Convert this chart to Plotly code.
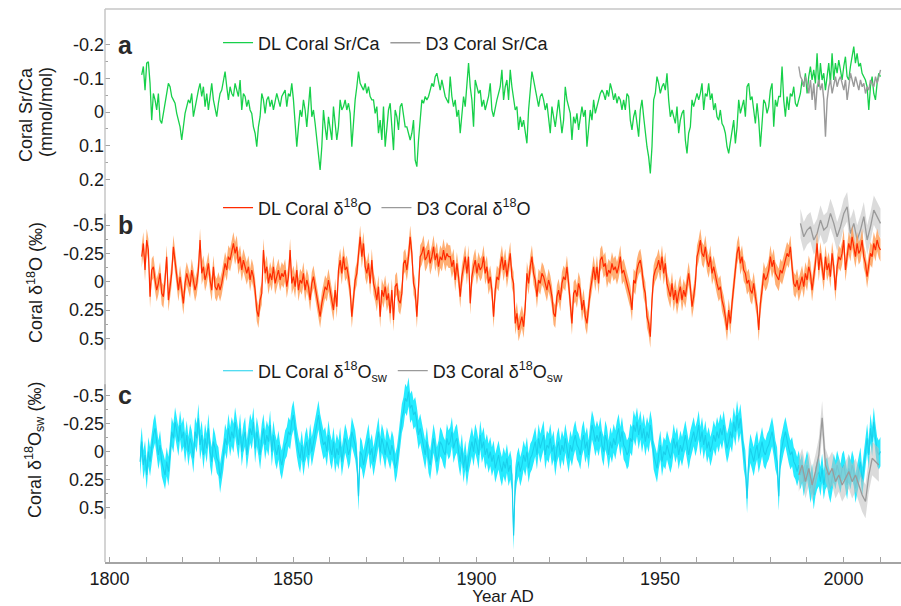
import numpy as np
import plotly.graph_objects as go

FONT = "Liberation Sans, Arial, Helvetica, sans-serif"
TEXT = "#1a1a1a"

# ---------------------------------------------------------------------------
# Coral records (decimal years, regular sampling)
# ---------------------------------------------------------------------------
DL_START = 1808.77        # first DL Sr/Ca and d18O sample
DL_SW_START = 1808.32     # first DL d18Osw sample
DL_STEP = 0.4544          # DL sampling interval (yr)
D3_START = 1987.82        # first D3 Sr/Ca and d18Osw sample
D3_O18_START = 1988.27    # first D3 d18O sample
D3_SRCA_STEP = 0.4544
D3_STEP = 0.9089

# Sr/Ca anomalies (mmol/mol)
dl_srca = [
    -0.110, -0.135, -0.065, -0.145, -0.149, -0.085, 0.024, -0.055, -0.036, -0.006,
    -0.055, 0.024, 0.034, 0.004, -0.036, -0.055, -0.085, -0.075, -0.046, -0.036,
    -0.026, 0.004, 0.024, 0.044, 0.083, 0.044, 0.004, -0.016, -0.036, -0.026,
    -0.055, 0.014, -0.016, -0.036, -0.065, -0.085, -0.046, -0.075, -0.016, -0.055,
    -0.006, -0.046, -0.085, -0.036, -0.006, 0.014, -0.026, -0.055, -0.065, -0.095,
    -0.120, -0.075, -0.036, -0.075, -0.055, -0.046, -0.085, -0.065, -0.046, -0.095,
    -0.006, -0.055, -0.046, -0.016, -0.036, -0.006, 0.004, 0.044, 0.063, 0.103,
    0.044, 0.014, -0.055, -0.036, 0.004, -0.036, -0.046, -0.016, -0.036, -0.006,
    -0.036, -0.055, -0.036, -0.016, -0.046, -0.055, -0.065, -0.016, -0.055, -0.046,
    -0.085, -0.036, 0.024, 0.103, 0.044, -0.006, 0.014, -0.036, -0.006, 0.044,
    -0.016, -0.075, 0.014, -0.006, 0.034, 0.083, 0.113, 0.172, 0.103, -0.006,
    0.044, 0.083, 0.014, 0.044, 0.083, -0.016, 0.044, 0.083, 0.044, -0.036,
    -0.006, -0.016, -0.036, -0.006, -0.026, 0.004, 0.103, 0.024, -0.036, -0.075,
    -0.120, -0.085, -0.075, -0.065, -0.085, -0.055, -0.075, -0.046, -0.036, -0.036,
    0.004, -0.016, 0.063, 0.024, 0.083, -0.016, 0.103, 0.034, -0.006, -0.026,
    0.034, 0.113, -0.006, 0.014, 0.053, -0.016, -0.026, 0.004, 0.044, 0.044,
    0.063, 0.083, 0.063, 0.024, 0.143, 0.162, 0.083, 0.014, -0.036, -0.026,
    -0.046, -0.036, -0.046, -0.065, -0.085, -0.075, -0.105, -0.115, -0.085, -0.065,
    -0.095, -0.075, -0.046, -0.036, -0.026,
    -0.105, -0.046, -0.016, -0.036, 0.014, -0.006, 0.063, -0.006, -0.046, -0.016,
    -0.085, -0.145, -0.075, -0.036, 0.044, -0.095, -0.075, -0.055, -0.065, -0.016,
    -0.036, -0.006, -0.026, -0.046, -0.085, -0.006, 0.014, -0.016, -0.036, -0.055,
    -0.075, -0.125, -0.036, -0.075, -0.095, -0.036, -0.125, -0.075, -0.036, -0.006,
    -0.016, 0.053, 0.014, 0.044, 0.024, 0.063, 0.093, -0.006, -0.075, -0.120,
    -0.095, -0.065, -0.036, -0.016, -0.046, -0.055, -0.036, -0.006, -0.026, 0.024,
    0.063, -0.016, 0.014, 0.044, 0.004, -0.036, 0.014, 0.063, 0.024, -0.075,
    -0.036, -0.016, 0.004, 0.083, 0.014, 0.034, 0.004, 0.053, 0.014, -0.016,
    0.014, -0.006, 0.103, 0.044, -0.006, 0.024, -0.036, 0.004, -0.016, -0.036,
    -0.055, -0.065, -0.055, -0.036, -0.065, -0.046, -0.085, -0.065, -0.036, -0.055,
    -0.026, -0.046, -0.036, -0.006, -0.036, -0.006, -0.055, -0.046, 0.024, 0.053,
    0.014, -0.006, 0.034, 0.073, -0.006, -0.036, 0.014, 0.063, 0.103, 0.133,
    0.182, 0.103, -0.036, -0.055, -0.105, -0.085, -0.055, -0.075, -0.085, -0.065,
    -0.115, -0.036, 0.014, -0.006, 0.014, 0.034, -0.016, 0.063, 0.024, 0.004,
    -0.006, 0.083, 0.123, 0.063, 0.044, -0.036, -0.016, -0.036, -0.055, -0.036,
    -0.055, -0.085, -0.006, -0.055, -0.046, -0.085, -0.036, -0.055, -0.006, -0.026,
    0.014, 0.024, -0.006, 0.034, 0.044, 0.063, 0.103, 0.123, 0.093, 0.063,
    0.024, 0.093, 0.044, -0.036, 0.004, -0.016, -0.036, 0.014, -0.075, -0.085,
    -0.036, -0.046, -0.006, 0.034, -0.026, 0.024, 0.103, 0.014, -0.036, -0.026,
    0.004, -0.016, -0.065, -0.085, 0.044, -0.036, -0.016, -0.046, -0.046, -0.135,
    -0.036, 0.014, -0.046, -0.006, -0.055, -0.046, -0.075, -0.026, -0.016, -0.036,
    -0.055, -0.095, -0.075, -0.115, -0.055, -0.105, -0.135, -0.095, -0.125, -0.085,
    -0.174, -0.075, -0.145, -0.095, -0.115, -0.065, -0.105, -0.145, -0.085, -0.174,
    -0.095, -0.145, -0.115, -0.154, -0.125, -0.095, -0.135, -0.164, -0.105, -0.095,
    -0.135, -0.164, -0.194, -0.145, -0.174, -0.135, -0.145, -0.115, -0.105, -0.095,
    -0.075, -0.006, -0.075, -0.105, -0.055, -0.036, -0.085, -0.115, -0.105,
]

d3_srca = [
    -0.135, -0.105, -0.095, -0.075, -0.105, -0.085, -0.055, -0.095, -0.036, -0.085,
    -0.006, -0.075, -0.095, -0.065, -0.085, -0.036, 0.073, -0.036, -0.075, -0.095,
    -0.055, -0.085, -0.105, -0.075, -0.095, -0.105, -0.085, -0.065, -0.095, -0.036,
    -0.075, -0.115, -0.095, -0.075, -0.105, -0.085, -0.065, -0.095, -0.075, -0.085,
    -0.055, -0.075, -0.065, -0.095, -0.085, -0.075, -0.105, -0.085, -0.105, -0.125,
]

# d18O anomalies (permil)
dl_d18o = [
    -0.221, -0.338, -0.103, -0.368, -0.279, 0.132, -0.103, -0.132, -0.015, 0.074,
    0.015, -0.074, 0.103, 0.132, -0.015, -0.221, 0.162, 0.015, -0.074, -0.309,
    -0.162, -0.074, 0.074, -0.044, 0.103, 0.191, 0.015, -0.074, -0.015, 0.044,
    -0.103, -0.015, 0.074, 0.015, -0.103, -0.368, -0.074, -0.132, -0.015, -0.074,
    -0.162, -0.015, 0.074, -0.132, 0.044, 0.074, 0.015, 0.074, 0.015, -0.074,
    -0.162, -0.103, -0.221, -0.191, -0.279, -0.338, -0.250, -0.309, -0.162, -0.221,
    -0.103, -0.191, -0.132, -0.074, -0.132, -0.015, -0.103, -0.044, 0.074, 0.250,
    0.309, 0.162, 0.103, -0.279, -0.074, -0.132, 0.015, -0.074, -0.015, -0.132,
    0.015, -0.044, -0.103, -0.015, -0.074, -0.044, -0.103, 0.044, -0.044, -0.279,
    0.015, -0.044, 0.044, -0.103, 0.074, -0.015, 0.015, -0.074, 0.074, -0.015,
    0.044, 0.162, 0.015, -0.044, 0.044, 0.132, 0.250, 0.309, 0.191, 0.103,
    0.044, 0.074, -0.015, 0.074, 0.162, 0.250, 0.074, 0.221, -0.103, -0.191,
    -0.074, -0.221, -0.103, -0.132, -0.044, 0.074, 0.309, 0.132, -0.015, -0.074,
    -0.250, -0.397, -0.221, -0.338, -0.132, -0.074, -0.162, 0.015, -0.191, 0.015,
    0.074, 0.162, 0.044, 0.309, 0.074, 0.132, 0.044, 0.162, 0.103, 0.279,
    0.074, 0.338, 0.044, 0.015, 0.162, 0.191, 0.103, -0.162, -0.191, -0.103,
    -0.221, -0.397, -0.250, 0.015, 0.074, 0.309, 0.044, -0.221, -0.250, -0.309,
    -0.191, -0.221, -0.279, -0.162, -0.221, -0.309, -0.191, -0.250, -0.132, -0.221,
    -0.191, -0.279, -0.191, -0.250, -0.221,
    -0.221, -0.132, -0.191, -0.015, -0.162, -0.044, 0.132, -0.044, -0.132, -0.221,
    -0.074, -0.221, 0.191, -0.044, -0.132, -0.191, -0.074, -0.162, -0.103, -0.132,
    -0.221, -0.074, -0.132, 0.015, -0.044, 0.074, 0.309, 0.074, -0.044, -0.015,
    -0.132, -0.221, -0.103, -0.191, -0.044, -0.132, -0.250, -0.044, 0.015, 0.368,
    0.279, 0.426, 0.368, 0.309, 0.397, 0.221, -0.074, 0.015, -0.132, -0.221,
    -0.074, -0.015, 0.132, -0.015, 0.015, -0.074, -0.044, 0.015, 0.074, -0.015,
    0.044, 0.132, 0.279, 0.309, 0.132, 0.074, 0.162, 0.015, -0.044, -0.015,
    -0.132, 0.015, 0.162, 0.368, 0.103, 0.074, 0.132, 0.015, 0.074, 0.250,
    0.162, 0.309, 0.368, 0.191, 0.074, -0.015, -0.132, -0.015, -0.132, 0.015,
    -0.191, -0.221, -0.132, -0.162, -0.044, -0.103, -0.074, -0.162, -0.103, -0.132,
    -0.074, -0.132, -0.221, -0.074, -0.103, -0.044, 0.015, 0.074, 0.132, 0.250,
    -0.015, 0.015, -0.103, -0.162, -0.191, -0.103, 0.044, 0.103, 0.309, 0.368,
    0.485, 0.162, -0.044, -0.103, -0.132, -0.191, -0.103, -0.221, -0.074, -0.162,
    0.015, 0.074, 0.132, 0.015, 0.162, 0.074, 0.191, 0.103, 0.044, 0.162,
    0.074, 0.132, 0.015, -0.074, 0.044, 0.221, 0.132, 0.015, -0.221, -0.279,
    -0.368, -0.250, -0.221, -0.309, -0.191, -0.132, -0.221, -0.074, -0.132, -0.044,
    0.015, 0.074, 0.044, 0.162, 0.221, 0.309, 0.426, 0.250, 0.368, 0.191,
    0.044, -0.132, -0.250, -0.309, -0.162, -0.221, -0.103, -0.074, 0.015, -0.015,
    0.074, 0.103, 0.015, 0.132, 0.221, 0.426, 0.191, 0.074, -0.074, -0.015,
    -0.044, -0.103, -0.221, -0.132, -0.191, -0.074, -0.044, -0.015, -0.103, -0.074,
    -0.132, -0.191, -0.250, -0.221, -0.309, -0.132, 0.015, 0.044, -0.015, 0.074,
    0.015, -0.044, 0.044, -0.074, -0.015, -0.132, -0.074, 0.074, -0.044, -0.162,
    -0.338, -0.103, -0.250, -0.132, -0.015, -0.221, -0.103, -0.162, -0.044, -0.250,
    -0.132, 0.074, -0.132, -0.221, -0.191, -0.250, -0.368, -0.103, -0.221, -0.338,
    -0.279, -0.397, -0.309, -0.221, -0.338, -0.250, -0.279, -0.368, -0.221, -0.162,
    -0.044, -0.132, -0.250, -0.221, -0.338, -0.279, -0.368, -0.309, -0.279,
]

d3_d18o = [
    -0.515, -0.397, -0.456, -0.485, -0.368, -0.426, -0.544, -0.456, -0.485, -0.603,
    -0.515, -0.397, -0.485, -0.603, -0.662, -0.426, -0.515, -0.368, -0.456, -0.574,
    -0.368, -0.485, -0.632, -0.574, -0.515,
]

# Seawater d18O anomalies (permil)
dl_d18osw = [
    0.091, -0.088, 0.121, 0.031, 0.210, 0.001, 0.091, -0.028, -0.147, -0.207,
    -0.088, 0.031, -0.058, 0.091, 0.150, 0.210, 0.091, 0.180, 0.031, -0.177,
    -0.118, -0.266, -0.177, -0.088, -0.237, -0.118, -0.177, -0.028, -0.147, 0.001,
    -0.118, -0.058, 0.061, -0.177, -0.118, -0.296, -0.058, -0.147, 0.031, -0.118,
    -0.028, -0.207, 0.001, 0.091, -0.088, -0.028, 0.061, 0.091, 0.240, 0.150,
    0.031, -0.118, -0.058, -0.207, -0.088, -0.177, -0.118, -0.266, -0.147, -0.058,
    -0.207, 0.001, -0.118, -0.177, 0.031, -0.088, -0.207, -0.147, -0.266, -0.028,
    -0.177, -0.088, 0.031, -0.118, -0.207, -0.058, -0.147, -0.088, -0.237, 0.001,
    -0.147, -0.028, 0.031, -0.058, 0.061, 0.121, 0.031, -0.058, -0.088, -0.177,
    -0.147, -0.266, -0.326, -0.177, -0.088, 0.001, 0.061, -0.058, 0.091, -0.028,
    -0.088, 0.031, -0.118, 0.001, -0.088, -0.177, -0.266, -0.326, -0.207, -0.118,
    -0.058, -0.088, 0.001, -0.147, -0.028, 0.031, -0.088, 0.061, -0.028, 0.031,
    -0.088, 0.091, -0.028, -0.118, -0.058, 0.031, -0.028, -0.177, -0.118, -0.058,
    0.061, 0.400, 0.001, 0.031, 0.121, 0.031, -0.058, -0.118, 0.031, -0.028,
    0.091, 0.001, -0.088, -0.177, 0.001, -0.118, -0.058, 0.031, -0.088, -0.028,
    0.031, -0.058, 0.001, 0.150, 0.091, -0.028, -0.177, -0.296, -0.356, -0.475,
    -0.446, -0.534, -0.385, -0.415, -0.326, -0.356, -0.266, -0.147, -0.207, -0.118,
    -0.028, 0.031, -0.088, 0.061, 0.121, 0.001, -0.118, -0.028, 0.091, 0.031,
    -0.088, -0.058, 0.001, 0.031, -0.118, -0.058,
    -0.088, -0.177, -0.028, -0.088, -0.118, 0.001, 0.091, -0.028, 0.150, 0.031,
    0.180, 0.061, -0.028, -0.088, 0.001, -0.118, -0.058, 0.031, -0.147, -0.028,
    -0.088, 0.031, -0.028, 0.061, 0.001, 0.091, 0.031, 0.150, 0.091, 0.031,
    0.121, 0.180, 0.091, 0.150, 0.061, 0.180, 0.121, 0.210, 0.750, 0.269,
    0.150, 0.091, 0.180, 0.121, 0.031, 0.091, 0.001, 0.150, 0.061, 0.031,
    -0.028, -0.088, 0.031, -0.118, -0.028, -0.088, -0.147, 0.031, -0.058, -0.028,
    -0.118, 0.001, -0.058, 0.091, -0.028, -0.088, 0.031, -0.058, 0.001, -0.118,
    -0.028, 0.061, -0.058, 0.001, -0.088, -0.147, -0.058, -0.028, 0.031, -0.088,
    -0.147, -0.028, -0.088, 0.031, -0.118, -0.237, -0.177, -0.088, -0.147, -0.088,
    -0.177, -0.058, 0.001, -0.147, -0.088, 0.031, -0.088, -0.028, -0.118, -0.058,
    -0.147, -0.207, -0.088, -0.177, -0.058, -0.028, 0.031, 0.001, -0.118, -0.088,
    -0.237, -0.177, -0.266, -0.147, -0.237, -0.118, -0.207, -0.088, -0.177, -0.118,
    -0.237, -0.147, 0.031, 0.091, 0.150, 0.031, -0.058, 0.091, 0.001, 0.031,
    -0.058, 0.001, 0.061, 0.001, -0.118, -0.028, -0.088, 0.031, -0.058, 0.001,
    -0.088, -0.147, -0.058, 0.031, -0.058, -0.118, -0.177, -0.088, -0.147, -0.237,
    -0.088, -0.177, -0.058, -0.147, -0.028, -0.088, 0.001, -0.058, -0.147, -0.088,
    -0.177, -0.118, -0.207, -0.147, -0.237, -0.118, -0.028, -0.088, -0.177, -0.118,
    -0.266, -0.177, -0.326, -0.207, -0.296, -0.147, 0.031, 0.121, 0.420, 0.091,
    -0.028, 0.031, 0.091, 0.001, -0.058, 0.061, -0.028, -0.088, 0.001, 0.031,
    -0.028, -0.058, -0.118, -0.177, -0.088, 0.031, 0.091, 0.400, 0.031, -0.058,
    -0.118, -0.177, -0.088, -0.028, 0.031, 0.001, 0.091, 0.121, 0.180, 0.121,
    0.210, 0.150, 0.269, 0.180, 0.121, 0.210, 0.329, 0.240, 0.388, 0.269,
    0.210, 0.180, 0.269, 0.150, 0.299, 0.210, 0.180, 0.269, 0.329, 0.240,
    0.150, 0.210, 0.121, 0.180, 0.240, 0.150, 0.121, 0.210, 0.299, 0.150,
    0.210, 0.121, 0.180, 0.329, 0.240, 0.150, 0.091, 0.269, 0.121, -0.028,
    -0.118, 0.031, -0.207, -0.088, -0.266, -0.118, 0.001, 0.031, 0.001,
]

d3_d18osw = [
    0.210, 0.121, 0.269, 0.150, 0.299, 0.180, 0.031, -0.300, 0.121, 0.210,
    0.150, 0.269, 0.210, 0.299, 0.240, 0.180, 0.269, 0.210, 0.299, 0.388,
    0.446, 0.210, 0.061, 0.091, 0.121,
]

# Uncertainty envelopes (permil)
DL_D18O_ERR = 0.10
D3_D18O_ERR = 0.13
DL_SW_ERR = 0.13
D3_SW_ERR = 0.15

# Axis ticks
X_TICKS = [1800, 1850, 1900, 1950, 2000]
X_MINOR = list(range(1810, 2011, 10))
SRCA_TICKS = [-0.2, -0.1, 0, 0.1, 0.2]
SRCA_LABELS = ["-0.2", "-0.1", "0", "0.1", "0.2"]
SRCA_MINOR = [-0.15, -0.05, 0.05, 0.15]
O18_TICKS = [-0.5, -0.25, 0, 0.25, 0.5]
O18_LABELS = ["-0.5", "-0.25", "0", "0.25", "0.5"]
O18_MINOR = [-0.375, -0.125, 0.125, 0.375]

# Colours
GREEN = "#17d04a"
RED = "#ff2a00"
ORANGE_BAND = "rgba(255,160,90,0.85)"
CYAN_BAND = "rgba(0,232,255,0.85)"
CYAN_LINE = "#1ad0ec"
GREY_LINE = "#9a9a9a"
GREY_BAND = "rgba(190,190,190,0.55)"
FRAME = "#c6c6c6"
AXIS = "#a4a4a4"


def years(start, step, values):
    return start + step * np.arange(len(values))


def band(fig, x, y, err, color, yaxis):
    y = np.asarray(y)
    fig.add_trace(go.Scatter(x=x, y=y - err, yaxis=yaxis, mode="lines",
                             line=dict(width=0), showlegend=False, hoverinfo="skip"))
    fig.add_trace(go.Scatter(x=x, y=y + err, yaxis=yaxis, mode="lines",
                             line=dict(width=0), fill="tonexty", fillcolor=color,
                             showlegend=False, hoverinfo="skip"))


fig = go.Figure()

# (a) Sr/Ca
t_dl = years(DL_START, DL_STEP, dl_srca)
t_d3 = years(D3_START, D3_SRCA_STEP, d3_srca)
fig.add_trace(go.Scatter(x=t_dl, y=dl_srca, yaxis="y", mode="lines",
                         line=dict(color=GREEN, width=1.3),
                         name="DL Coral Sr/Ca", legend="legend", legendrank=1))
fig.add_trace(go.Scatter(x=t_d3, y=d3_srca, yaxis="y", mode="lines",
                         line=dict(color=GREY_LINE, width=1.4),
                         name="D3 Coral Sr/Ca", legend="legend", legendrank=2))

# (b) d18O
t_dl = years(DL_START, DL_STEP, dl_d18o)
t_d3 = years(D3_O18_START, D3_STEP, d3_d18o)
band(fig, t_d3, d3_d18o, D3_D18O_ERR, GREY_BAND, "y2")
fig.add_trace(go.Scatter(x=t_d3, y=d3_d18o, yaxis="y2", mode="lines",
                         line=dict(color=GREY_LINE, width=1.3),
                         name="D3 Coral δ<sup>18</sup>O", legend="legend2", legendrank=2))
band(fig, t_dl, dl_d18o, DL_D18O_ERR, ORANGE_BAND, "y2")
fig.add_trace(go.Scatter(x=t_dl, y=dl_d18o, yaxis="y2", mode="lines",
                         line=dict(color=RED, width=1.2),
                         name="DL Coral δ<sup>18</sup>O", legend="legend2", legendrank=1))

# (c) d18O seawater
t_dl = years(DL_SW_START, DL_STEP, dl_d18osw)
t_d3 = years(D3_START, D3_STEP, d3_d18osw)
band(fig, t_dl, dl_d18osw, DL_SW_ERR, CYAN_BAND, "y3")
fig.add_trace(go.Scatter(x=t_dl, y=dl_d18osw, yaxis="y3", mode="lines",
                         line=dict(color=CYAN_LINE, width=1.1),
                         name="DL Coral δ<sup>18</sup>O<sub>sw</sub>",
                         legend="legend3", legendrank=1))
band(fig, t_d3, d3_d18osw, D3_SW_ERR, GREY_BAND, "y3")
fig.add_trace(go.Scatter(x=t_d3, y=d3_d18osw, yaxis="y3", mode="lines",
                         line=dict(color=GREY_LINE, width=1.3),
                         name="D3 Coral δ<sup>18</sup>O<sub>sw</sub>",
                         legend="legend3", legendrank=2))

tickfont = dict(family=FONT, size=18, color=TEXT)


def yaxis(domain, rng, ticks, labels, minor):
    return dict(domain=domain, range=rng, anchor="x", showline=False, showgrid=False,
                zeroline=False, ticks="inside", ticklen=5, tickwidth=1, tickcolor=AXIS,
                tickvals=ticks, ticktext=labels, tickfont=tickfont,
                minor=dict(tickvals=minor, ticks="inside", ticklen=3, tickcolor=AXIS))


legend_common = dict(orientation="h", xanchor="left", yanchor="middle",
                     traceorder="normal",
                     bgcolor="rgba(0,0,0,0)", font=dict(family=FONT, size=18, color=TEXT),
                     itemwidth=30, tracegroupgap=0)

fig.update_layout(
    width=901, height=606,
    margin=dict(l=105, r=0, t=9, b=44),
    paper_bgcolor="white", plot_bgcolor="white",
    font=dict(family=FONT, size=18, color=TEXT),
    xaxis=dict(domain=[0, 1], range=[1798.77, 2015.67], anchor="y3",
               showline=True, linecolor=AXIS, linewidth=1.5, mirror=False,
               showgrid=False, zeroline=False,
               ticks="inside", ticklen=5, tickcolor=AXIS, tickvals=X_TICKS,
               tickfont=tickfont, ticklabelstandoff=0,
               minor=dict(tickvals=X_MINOR, ticks="inside", ticklen=5, tickcolor=AXIS),
               title=dict(text="Year AD", font=dict(family=FONT, size=17, color=TEXT),
                          standoff=4)),
    yaxis=yaxis([0.65461, 1.0], [0.2611, -0.3056], SRCA_TICKS, SRCA_LABELS, SRCA_MINOR),
    yaxis2=yaxis([0.34358, 0.67812], [0.797, -0.836], O18_TICKS, O18_LABELS, O18_MINOR),
    yaxis3=yaxis([0.0, 0.36528], [0.9866, -0.8170], O18_TICKS, O18_LABELS, O18_MINOR),
    legend=dict(legend_common, x=0.142, y=0.9385),
    legend2=dict(legend_common, x=0.142, y=0.6401),
    legend3=dict(legend_common, x=0.142, y=0.3454),
    showlegend=True,
)

# Frame and per-panel axis lines
fig.add_shape(type="line", xref="paper", yref="paper", x0=0, x1=1, y0=1, y1=1,
              line=dict(color=FRAME, width=1.5))
fig.add_shape(type="line", xref="paper", yref="paper", x0=0, x1=0, y0=0, y1=1,
              line=dict(color=FRAME, width=1.5))
fig.add_shape(type="line", xref="paper", yref="y2", x0=0, x1=0, y0=-0.6, y1=0.6,
              line=dict(color=AXIS, width=1.5))
fig.add_shape(type="line", xref="paper", yref="y3", x0=0, x1=0, y0=-0.6, y1=0.6,
              line=dict(color=AXIS, width=1.5))

# Panel letters
for letter, y in (("a", 0.9349), ("b", 0.6094), ("c", 0.3020)):
    fig.add_annotation(text=f"<b>{letter}</b>", xref="paper", yref="paper",
                       x=0.0135, y=y, xanchor="left", yanchor="middle", showarrow=False,
                       font=dict(family=FONT, size=25, color="#2a2a2a"))

# Y-axis titles
titles = [
    ("Coral Sr/Ca", -0.0992, 0.8083),
    ("(mmol/mol)", -0.0741, 0.8137),
    ("Coral δ<sup>18</sup>O (‰)", -0.0880, 0.5063),
    ("Coral δ<sup>18</sup>O<sub>sw</sub> (‰)", -0.0892, 0.2025),
]
for text, x, y in titles:
    fig.add_annotation(text=text, xref="paper", yref="paper", x=x, y=y,
                       xanchor="center", yanchor="middle", textangle=-90,
                       showarrow=False, font=dict(family=FONT, size=18, color=TEXT))

fig.write_html("out.html")
